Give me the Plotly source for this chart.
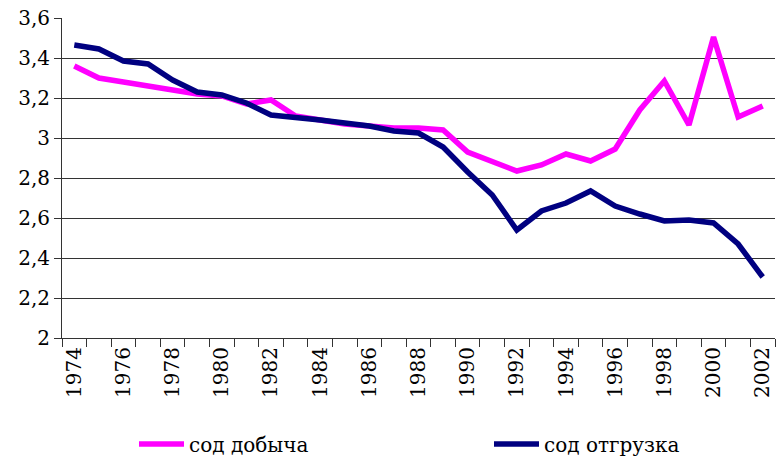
import plotly.graph_objects as go

years = list(range(1974, 2003))
dobycha = [3.36, 3.30, 3.28, 3.26, 3.24, 3.22, 3.21, 3.17, 3.19, 3.11, 3.09, 3.07, 3.06, 3.05, 3.05,
           3.04, 2.93, 2.88, 2.835, 2.865, 2.92, 2.885, 2.945, 3.14, 3.285, 3.065, 3.505, 3.105, 3.16]
otgruzka = [3.465, 3.445, 3.385, 3.37, 3.29, 3.23, 3.215, 3.175, 3.115, 3.105, 3.09, 3.075, 3.06, 3.035, 3.025,
            2.955, 2.83, 2.715, 2.54, 2.635, 2.675, 2.735, 2.66, 2.62, 2.585, 2.59, 2.575, 2.47, 2.305]
series_names = ["сод добыча", "сод отгрузка"]
y_ticks = [2.0, 2.2, 2.4, 2.6, 2.8, 3.0, 3.2, 3.4, 3.6]
y_labels = ["2", "2,2", "2,4", "2,6", "2,8", "3", "3,2", "3,4", "3,6"]
x_labels = [y for y in years if y % 2 == 0]

FONT = "DejaVu Serif"
FS = 20

fig = go.Figure()
fig.add_trace(go.Scatter(x=years, y=dobycha, mode="lines", name=series_names[0],
                         line=dict(color="#FF00FF", width=5.5), legend="legend"))
fig.add_trace(go.Scatter(x=years, y=otgruzka, mode="lines", name=series_names[1],
                         line=dict(color="#000080", width=5.5), legend="legend2"))

leg_common = dict(orientation="h", yanchor="top", xanchor="left", y=-0.27,
                  font=dict(family=FONT, size=FS, color="black"), itemwidth=45,
                  bgcolor="rgba(0,0,0,0)")
fig.update_layout(
    width=776, height=468,
    margin=dict(l=62, r=1, t=18, b=130, autoexpand=False),
    paper_bgcolor="white", plot_bgcolor="white",
    font=dict(family=FONT, size=FS, color="black"),
    showlegend=True,
    legend=dict(x=(134 - 62) / 713, **leg_common),
    legend2=dict(x=(489 - 62) / 713, **leg_common),
)
fig.update_xaxes(
    range=[1973.5, 2002.5],
    tickmode="array", tickvals=x_labels, ticktext=[str(v) for v in x_labels],
    tickangle=-90, ticks="", showgrid=False,
    showline=True, linecolor="#333333", linewidth=1,
    minor=dict(tickmode="array", tickvals=[y - 0.5 for y in years] + [2002.5],
               ticks="outside", ticklen=8, tickcolor="#333333", showgrid=False),
    tickfont=dict(family=FONT, size=FS, color="black"),
)
fig.update_yaxes(
    range=[2.0, 3.6],
    tickmode="array", tickvals=y_ticks, ticktext=y_labels,
    ticks="outside", ticklen=7, tickcolor="#333333",
    showgrid=True, gridcolor="#333333", gridwidth=1,
    showline=True, linecolor="#333333", linewidth=1,
    zeroline=False,
    tickfont=dict(family=FONT, size=FS, color="black"),
)

fig.write_html("out.html", config={"displayModeBar": False},
               post_script="document.body.style.margin='0';document.body.style.padding='0';")
